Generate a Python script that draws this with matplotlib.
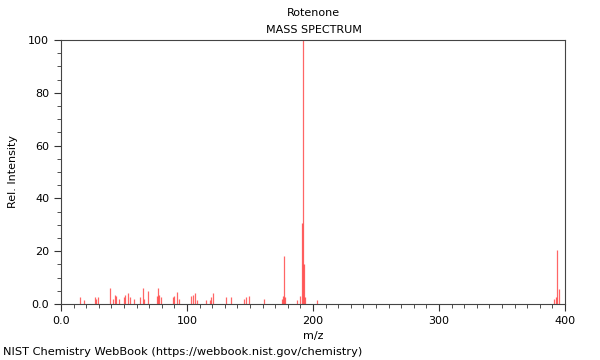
import matplotlib
matplotlib.use("Agg")
import matplotlib.pyplot as plt
from matplotlib.ticker import MultipleLocator, FixedFormatter, FixedLocator

# peak list (m/z, relative intensity)
mz = [15, 18, 27, 28, 29, 39, 41, 43, 44, 46, 50, 51, 53, 55, 58, 63, 65, 66,
      69, 76, 77, 78, 79, 89, 90, 92, 94, 103, 105, 106, 108, 115, 118, 119, 121,
      131, 135, 145, 147, 149, 161, 175, 176, 177, 178, 187, 190, 191, 192, 193,
      194, 203, 391, 393, 394, 395]
intensity = [2.5, 1.5, 2.5, 2.0, 2.5, 6.0, 2.0, 3.5, 3.0, 2.0, 2.5, 3.5, 4.0,
             2.5, 2.0, 2.5, 6.0, 2.0, 5.0, 3.0, 6.0, 3.5, 2.5, 2.5, 3.0, 4.5,
             2.0, 3.0, 3.5, 4.0, 1.5, 1.5, 1.5, 2.5, 4.0, 2.5, 2.5, 2.0, 2.5,
             3.0, 2.0, 2.0, 3.0, 18.0, 2.5, 1.5, 3.0, 30.5, 100.0, 15.0, 2.5,
             1.5, 2.0, 2.5, 20.5, 5.5]

title = "Rotenone"
subtitle = "MASS SPECTRUM"
footer = "NIST Chemistry WebBook (https://webbook.nist.gov/chemistry)"

fig = plt.figure(figsize=(6, 3.6), dpi=100)
ax = fig.add_axes([0.1017, 0.1556, 0.84, 0.7333])

ax.vlines(mz, 0, intensity, color="#ff0000", linewidth=0.9, alpha=0.6)

ax.set_xlim(0, 400)
ax.set_ylim(0, 100)

ax.xaxis.set_major_locator(FixedLocator([0, 100, 200, 300, 400]))
ax.xaxis.set_major_formatter(FixedFormatter(["0.0", "100", "200", "300", "400"]))
ax.xaxis.set_minor_locator(MultipleLocator(10))
ax.yaxis.set_major_locator(FixedLocator([0, 20, 40, 60, 80, 100]))
ax.yaxis.set_major_formatter(FixedFormatter(["0.0", "20", "40", "60", "80", "100"]))
ax.yaxis.set_minor_locator(MultipleLocator(5))

ax.tick_params(which="major", length=5, width=0.8, labelsize=8, direction="out", colors="#333333", labelcolor="black")
ax.tick_params(which="minor", length=3, width=0.6, direction="out", colors="#333333")
for sp in ax.spines.values():
    sp.set_color("#444444")
    sp.set_linewidth(0.8)

ax.set_xlabel("m/z", fontsize=8)
ax.set_ylabel("Rel. Intensity", fontsize=8, labelpad=7)

fig.text(0.523, 0.963, title, ha="center", va="center", fontsize=8)
fig.text(0.523, 0.917, subtitle, ha="center", va="center", fontsize=8)
fig.text(0.005, 0.022, footer, ha="left", va="center", fontsize=8.2)

fig.savefig("out.png", dpi=100)
